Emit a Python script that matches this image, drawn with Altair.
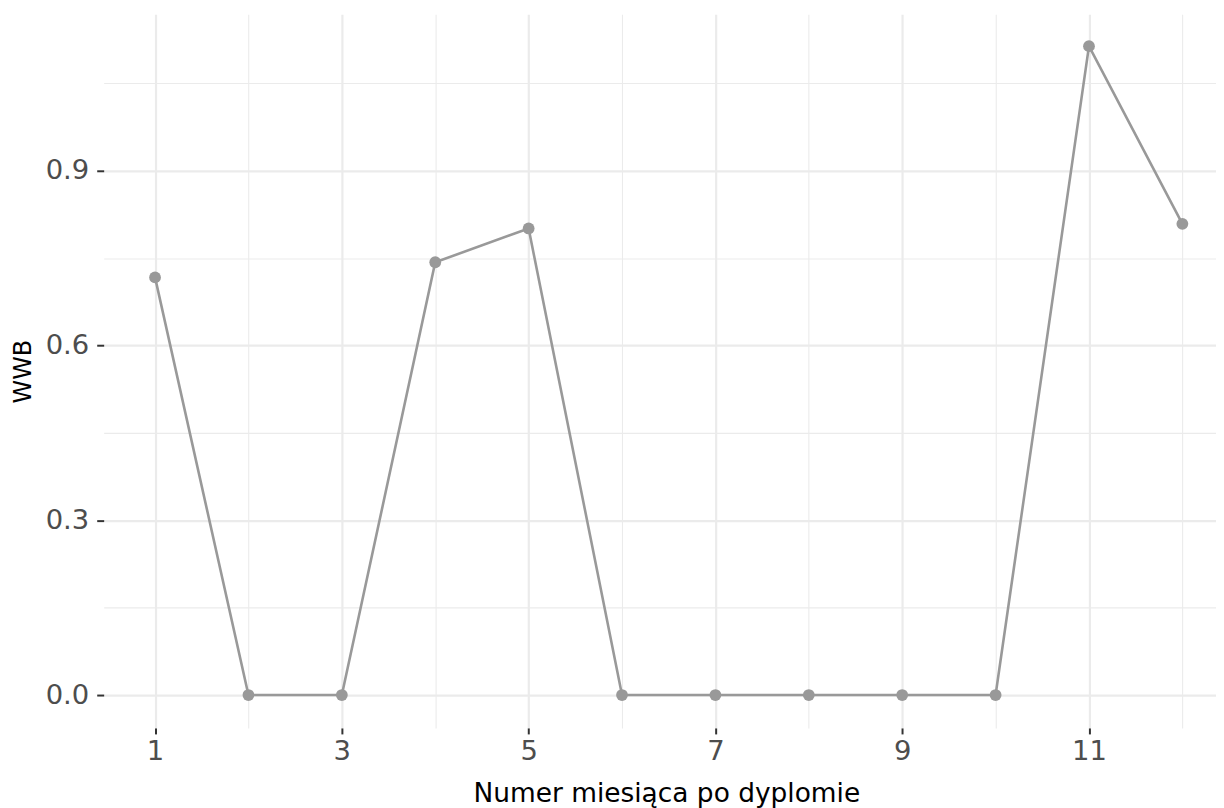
import altair as alt
import pandas as pd

months = [1, 2, 3, 4, 5, 6, 7, 8, 9, 10, 11, 12]
wwb = [0.717, 0.0, 0.0, 0.743, 0.801, 0.0, 0.0, 0.0, 0.0, 0.0, 1.114, 0.809]

x_ticks = [1, 2, 3, 4, 5, 6, 7, 8, 9, 10, 11, 12]
y_ticks = [0.0, 0.15, 0.3, 0.45, 0.6, 0.75, 0.9, 1.05]

df = pd.DataFrame({"month": months, "wwb": wwb})

W, H = 1116, 716
FONT = "DejaVu Sans"

x_major = "datum.value % 2 == 1"
y_major = "round(datum.value * 100) % 30 == 0"

x_axis = alt.Axis(
    values=x_ticks,
    title="Numer miesiąca po dyplomie",
    titleFont=FONT, titleFontSize=26.5, titleFontWeight="normal", titleColor="#000000",
    titleX=564.5, titleY=74, titleBaseline="alphabetic", titleAlign="center",
    labelFont=FONT, labelFontSize=27.5, labelColor="#4d4d4d", labelPadding=4,
    labelExpr="datum.value % 2 == 1 ? format(datum.value, 'd') : ''",
    labelOverlap=False, labelBound=False, labelFlush=False,
    domain=False,
    tickSize=6, tickColor="#333333", tickWidth=2,
    tickOpacity={"condition": {"test": x_major, "value": 1}, "value": 0},
    grid=True, gridColor="#ebebeb",
    gridWidth={"condition": {"test": x_major, "value": 2.2}, "value": 1.1},
)

y_axis = alt.Axis(
    values=y_ticks,
    title="WWB",
    titleFont=FONT, titleFontSize=24, titleFontWeight="normal", titleColor="#000000",
    titleX=-80, titleY=H / 2, titleAngle=-90, titleAlign="center", titleBaseline="middle",
    labelFont=FONT, labelFontSize=27.5, labelColor="#4d4d4d", labelPadding=8,
    labelExpr="round(datum.value * 100) % 30 == 0 ? format(datum.value, '.1f') : ''",
    labelOverlap=False, labelBound=False, labelFlush=False,
    domain=False,
    tickSize=7, tickColor="#333333", tickWidth=2,
    tickOpacity={"condition": {"test": y_major, "value": 1}, "value": 0},
    grid=True, gridColor="#ebebeb",
    gridWidth={"condition": {"test": y_major, "value": 2.2}, "value": 1.1},
)

x_enc = alt.X("month:Q", scale=alt.Scale(domain=[0.45, 12.36], nice=False, zero=False), axis=x_axis)
y_enc = alt.Y("wwb:Q", scale=alt.Scale(domain=[-0.0565, 1.1687], nice=False, zero=False), axis=y_axis)

line = alt.Chart(df).mark_line(color="#999999", strokeWidth=2.6).encode(x=x_enc, y=y_enc)
pts = alt.Chart(df).mark_circle(color="#999999", opacity=1, size=140).encode(x="month:Q", y="wwb:Q")

chart = (
    alt.layer(line, pts)
    .properties(
        width=W, height=H,
        autosize=alt.AutoSizeParams(type="none"),
        padding={"left": 96, "top": 5, "right": 0, "bottom": 80},
        background="#ffffff",
    )
    .configure_view(stroke=None)
)

chart.save("out.html", embed_options={"renderer": "svg", "actions": False})
